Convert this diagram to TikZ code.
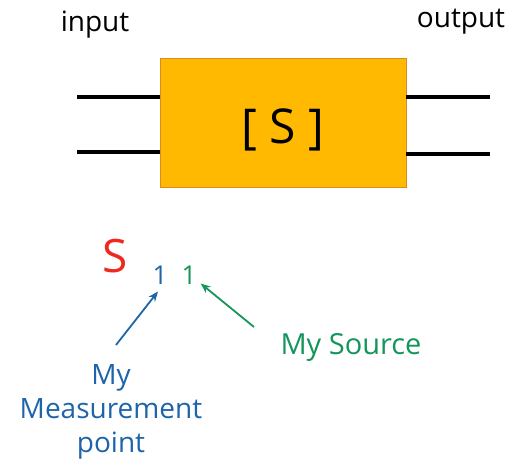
\documentclass[tikz,border=0pt]{standalone}
\usepackage{fontspec}
\setmainfont{Open Sans}
\usetikzlibrary {arrows.meta}
\usetikzlibrary {positioning}
\definecolor{boxfill}{RGB}{255,185,0}
\definecolor{boxline}{RGB}{220,140,30}
\definecolor{mblue}{RGB}{30,100,170}
\definecolor{mgreen}{RGB}{20,150,90}
\definecolor{mred}{RGB}{240,40,30}

\begin{document}
\begin{tikzpicture}[x=1pt,y=1pt]
\tikzset{port/.style={line width=3.8pt},
  pointer/.style={->, >={Stealth[length=10pt,width=8pt]}, line width=1.8pt}}
\useasboundingbox (0,0) rectangle (525,468);

%system block
\node [rectangle, draw=boxline, fill=boxfill, minimum width=246pt, minimum height=129pt, inner sep=0pt] (sys) at (283,345.5) {};
\node [font=\fontsize{48}{52}\selectfont] (brk) at (283,338) {[ S ]};

%ports
\coordinate (in1) at (77,371);
\coordinate (in2) at (77,316);
\coordinate (out1) at (490,371);
\coordinate (out2) at (490,314);
\draw [port] (in1) to (in1 -| sys.west);
\draw [port] (in2) to (in2 -| sys.west);
\draw [port] (sys.east |- out1) to (out1);
\draw [port] (sys.east |- out2) to (out2);

\node [font=\fontsize{28}{32}\selectfont] (input) at (95,443) {input};
\node [font=\fontsize{28}{32}\selectfont] (output) at (461,446) {output};

%parameter
\node [mred, font=\fontsize{46}{50}\selectfont] (s) at (115,212) {S};
\node [mblue, inner sep=1pt, font=\fontsize{26}{30}\selectfont] (meas) at (160,193) {1};
\node [mgreen, inner sep=1pt, font=\fontsize{26}{30}\selectfont] (src) at (189,193) {1};

%labels
\node [mgreen, font=\fontsize{29}{33}\selectfont] (srclabel) at (351,121) {My Source};
\node [mblue, align=center, font=\fontsize{28}{34}\selectfont] (measlabel) at (111,56) {My\\Measurement\\point};
\coordinate (mtail) at (116,123);
\coordinate (stail) at (254,141);
\draw [pointer, mblue] (mtail) to ([xshift=-2pt,yshift=-6pt]meas.south);
\draw [pointer, mgreen] (stail) to ([xshift=3pt,yshift=2pt]src.south east);

\end{tikzpicture}
\end{document}
